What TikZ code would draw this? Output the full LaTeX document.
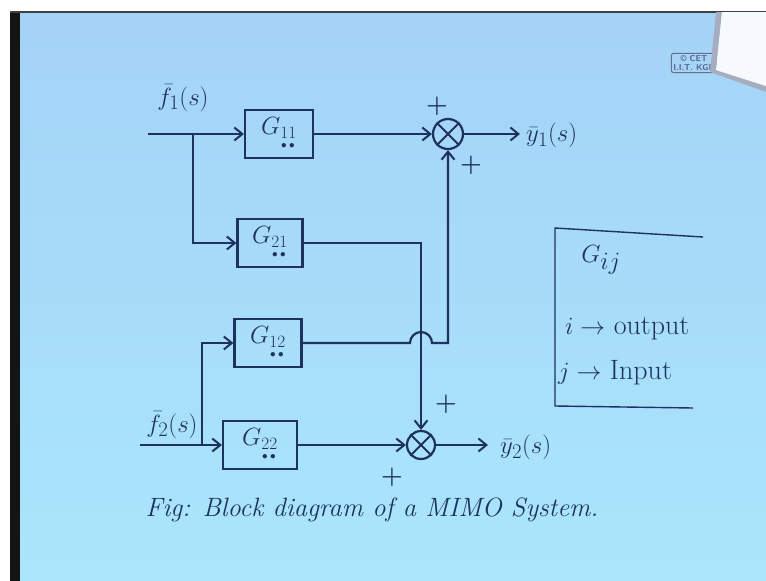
\documentclass[tikz,border=0pt]{standalone}
\usepackage{amsmath}
\usetikzlibrary{arrows.meta}
\definecolor{ink}{RGB}{30,50,95}
\definecolor{bgtop}{RGB}{164,210,246}
\definecolor{bgbot}{RGB}{170,230,252}
\newcommand{\dt}[1]{\underset{\scalebox{0.45}{$\bullet$}}{#1}}
\begin{document}
\begin{tikzpicture}[x=1pt,y=-1pt,
  wire/.style={draw=ink,line width=2.2pt},
  arr/.style={wire,-{Straight Barb[length=8pt,width=13pt,line width=2pt]}},
  blk/.style={draw=ink,line width=2.2pt,minimum height=48pt,inner sep=0pt,text=ink,font=\fontsize{25}{27}\selectfont},
  summ/.style={circle,draw=ink,line width=2.2pt,minimum size=28pt,inner sep=0pt},
  lbl/.style={text=ink,font=\fontsize{28}{30}\selectfont,inner sep=0pt},
  pls/.style={text=ink,font=\fontsize{24}{26}\selectfont\boldmath,inner sep=0pt}
]
\useasboundingbox (0,0) rectangle (766,581);
% background
\shade[top color=bgtop,bottom color=bgbot] (0,0) rectangle (766,581);
\fill[white] (0,0) rectangle (766,11);
\fill[white] (0,0) rectangle (10,581);
\fill[black!92] (10,11) rectangle (20,581);
\fill[black!75] (10,11) rectangle (766,13);
% stamp
\node[draw=ink!70,line width=1pt,rounded corners=2pt,align=center,text=ink!75,inner sep=2pt,
      font=\sffamily\bfseries\fontsize{8.5}{9}\selectfont] (stamp) at (694,63) {\textcopyright\ CET\\I.I.T. KGP};
\fill[ink!40] (716,12) -- (710,72) -- (766,92) -- (766,86) -- (716,70) -- (722,12) -- cycle;
\fill[white!90!bgtop] (722,12) -- (716,70) -- (766,86) -- (766,12) -- cycle;

% blocks
\node[blk,minimum width=68pt] (g11) at (279,134) {$G_{\dt{1}\dt{1}}$};
\node[blk,minimum width=65pt] (g21) at (270,243) {$G_{\dt{2}\dt{1}}$};
\node[blk,minimum width=67pt] (g12) at (268,343) {$G_{\dt{1}\dt{2}}$};
\node[blk,minimum width=74pt] (g22) at (260,445) {$G_{\dt{2}\dt{2}}$};

% summing junctions
\node[summ,minimum size=30pt] (s1) at (448,134) {};
\node[summ] (s2) at (421,445) {};
\draw[wire,line width=2pt] (s1.north east) -- (s1.south west) (s1.north west) -- (s1.south east);
\draw[wire,line width=2pt] (s2.north east) -- (s2.south west) (s2.north west) -- (s2.south east);

% inputs
\coordinate (f1) at (148,134);
\coordinate (b1) at (193,134);
\coordinate (f2) at (140,445);
\coordinate (b2) at (202,445);
\node[lbl] (f1l) at (183,98) {$\bar{f}_1(s)$};
\node[lbl] (f2l) at (172,425) {$\bar{f}_2(s)$};

\draw[arr] (f1) -- (g11.west);
\draw[arr] (b1) |- (g21.west);
\draw[arr] (f2) -- (g22.west);
\draw[arr] (b2) |- (g12.west);

% block outputs
\draw[arr] (g11.east) -- (s1.west);
\draw[arr] (g21.east) -- (g21.east -| s2) -- (s2.north);
\coordinate (h1) at (410,343);
\draw[arr] (g12.east) -- (h1) arc[start angle=180,end angle=360,radius=11] -- (g12.east -| s1) -- (s1.south);
\draw[arr] (g22.east) -- (s2.west);

% outputs
\coordinate (y1) at (520,134);
\coordinate (y2) at (488,445);
\draw[arr] (s1.east) -- (y1);
\draw[arr] (s2.east) -- (y2);
\node[lbl,anchor=west] (y1l) at (526,135) {$\bar{y}_1(s)$};
\node[lbl,anchor=west] (y2l) at (500,447) {$\bar{y}_2(s)$};

% signs
\node[pls] (p1) at (437,106) {$+$};
\node[pls] (p2) at (471,165) {$+$};
\node[pls] (p3) at (446,404) {$+$};
\node[pls] (p4) at (392,477) {$+$};

% legend
\draw[wire,line width=1.4pt] (703,237) -- (555,228) -- (555,406) -- (693,408);
\node[text=ink,font=\fontsize{40}{42}\selectfont,inner sep=0pt] (gij) at (601,260) {$G_{ij}$};
\node[text=ink,font=\fontsize{28}{30}\selectfont,inner sep=0pt,anchor=west] (li) at (565,329) {$i \rightarrow$ output};
\node[text=ink,font=\fontsize{28}{30}\selectfont,inner sep=0pt,anchor=west] (lj) at (558,373) {$j \rightarrow$ Input};

% caption
\node[text=ink,font=\fontsize{26.5}{28}\selectfont\itshape,inner sep=0pt] (cap) at (372,510) {Fig: Block diagram of a MIMO System.};
\end{tikzpicture}
\end{document}
